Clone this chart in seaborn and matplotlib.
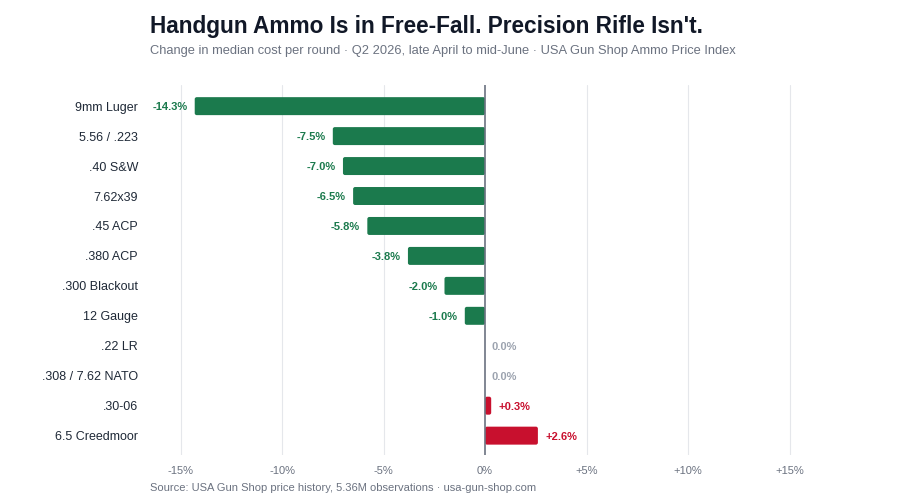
import matplotlib
matplotlib.use('Agg')
import matplotlib.pyplot as plt
from matplotlib.patches import FancyBboxPatch
import seaborn as sns
import pandas as pd

# data
calibers = ['9mm Luger', '5.56 / .223', '.40 S&W', '7.62x39', '.45 ACP', '.380 ACP',
            '.300 Blackout', '12 Gauge', '.22 LR', '.308 / 7.62 NATO', '.30-06', '6.5 Creedmoor']
change_pct = [-14.3, -7.5, -7.0, -6.5, -5.8, -3.8, -2.0, -1.0, 0.0, 0.0, 0.3, 2.6]
tick_vals = [-15, -10, -5, 0, 5, 10, 15]
tick_labels = ['-15%', '-10%', '-5%', '0%', '+5%', '+10%', '+15%']

GREEN = '#1b7a4d'
RED = '#c8102e'
ZERO = '#9ca3af'

df = pd.DataFrame({'caliber': calibers, 'change': change_pct})
colors = [GREEN if v < 0 else (RED if v > 0 else ZERO) for v in change_pct]

sns.set_style('white')
plt.rcParams['font.family'] = ['Liberation Sans', 'DejaVu Sans']

fig = plt.figure(figsize=(9, 5.04), dpi=100)
ax = fig.add_axes([0.178, 0.097, 0.722, 0.734])

sns.barplot(data=df, y='caliber', x='change', hue='caliber', palette=colors,
            legend=False, width=0.6, saturation=1, orient='h', ax=ax, zorder=3)

ax.set_xlim(-16, 16)
ax.set_ylim(11.65, -0.7)

# swap the square bars for slightly rounded ones
for p in list(ax.patches):
    x0, y0, w, h = p.get_x(), p.get_y(), p.get_width(), p.get_height()
    if w < 0:
        x0, w = x0 + w, -w
    if w == 0:
        p.remove()
        continue
    r = min(0.1, w / 2)
    fb = FancyBboxPatch((x0, y0), w, h, boxstyle=f'round,pad=0,rounding_size={r}',
                        mutation_aspect=0.667, facecolor=p.get_facecolor(),
                        edgecolor='none', zorder=3)
    p.remove()
    ax.add_patch(fb)

ax.set_xticks(tick_vals)
ax.set_xticklabels(tick_labels, color='#6b7280', fontsize=8)
ax.tick_params(axis='y', labelsize=9, labelcolor='#1f2937', length=0, pad=16)
ax.tick_params(axis='x', length=0, pad=8)
ax.set_xlabel('')
ax.set_ylabel('')
for s in ax.spines.values():
    s.set_visible(False)
for t in tick_vals:
    if t != 0:
        ax.axvline(t, color='#e5e7eb', lw=0.8, zorder=0)
ax.axvline(0, color='#6b7280', lw=1.2, zorder=4)

# value labels
for i, v in enumerate(change_pct):
    if v < 0:
        ax.text(v - 0.35, i, f'{v:.1f}%', ha='right', va='center_baseline', color=GREEN,
                fontsize=8, fontweight='bold')
    elif v > 0:
        ax.text(v + 0.35, i, f'+{v:.1f}%', ha='left', va='center_baseline', color=RED,
                fontsize=8, fontweight='bold')
    else:
        ax.text(0.3, i, '0.0%', ha='left', va='center_baseline', color=ZERO,
                fontsize=8, fontweight='bold')

fig.text(150/900, 1 - 26/504, "Handgun Ammo Is in Free-Fall. Precision Rifle Isn't.",
         fontsize=16.3, fontweight='bold', color='#111827', va='center')
fig.text(150/900, 1 - 51/504,
         'Change in median cost per round · Q2 2026, late April to mid-June · USA Gun Shop Ammo Price Index',
         fontsize=9.3, color='#6b7280', va='center')
fig.text(150/900, 1 - 488/504,
         'Source: USA Gun Shop price history, 5.36M observations · usa-gun-shop.com',
         fontsize=8, color='#6b7280', va='center')

fig.savefig('out.png', dpi=100)
